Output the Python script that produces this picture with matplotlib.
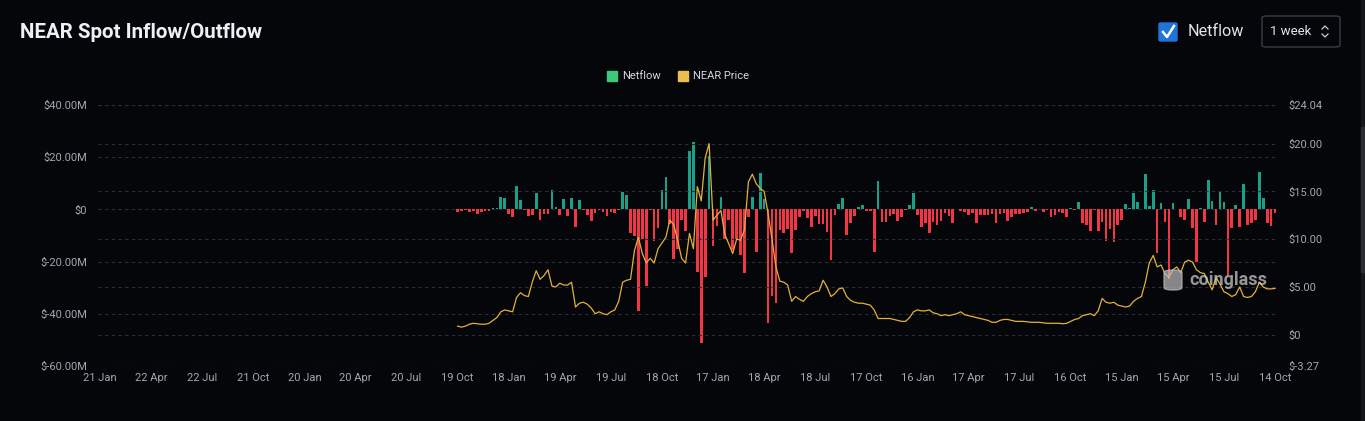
import matplotlib
matplotlib.use("Agg")
import matplotlib.pyplot as plt
from matplotlib.patches import FancyBboxPatch, Rectangle
import numpy as np

plt.rcParams['font.family'] = ['Roboto', 'DejaVu Sans']

# ---------------- data ----------------
tick_labels = ["21 Jan", "22 Apr", "22 Jul", "21 Oct", "20 Jan", "20 Apr", "20 Jul", "19 Oct",
               "18 Jan", "19 Apr", "19 Jul", "18 Oct", "17 Jan", "18 Apr", "18 Jul", "17 Oct",
               "16 Jan", "17 Apr", "17 Jul", "16 Oct", "15 Jan", "15 Apr", "15 Jul", "14 Oct"]
n_weeks = 300          # weekly categories, 21 Jan 2019 .. 14 Oct 2024
tick_every = 13        # one label per quarter
data_start = 91        # first week with data (19 Oct 2020)

# weekly netflow, $M
netflow = [
    -1.1, -0.7, -0.4, -1.0, -0.8, -1.6, -1.0, -0.8, -0.5, 0.5,
    0.6, 4.7, 4.3, -1.7, -3.0, 8.8, 3.5, -0.3, -2.6, -2.2,
    6.3, -4.0, -1.6, -1.9, 7.3, 1.0, -2.2, 4.0, -2.7, 4.3,
    -6.6, 3.5, -0.2, -2.1, -4.6, -1.3, -0.3, -1.0, -2.4, -0.9,
    -1.4, -0.4, 6.8, 5.4, -9.0, -10.3, -39.0, -11.2, -29.3, -0.2,
    -12.1, -7.2, 7.3, 12.6, -5.7, -19.0, -15.2, -4.2, -8.3, 22.5,
    26.0, -23.9, -51.3, -25.8, 20.5, -14.0, -6.2, 4.8, -11.4, -4.0,
    -15.6, -11.4, -17.3, -24.5, -3.0, 4.6, -16.2, 13.8, 3.9, -43.4,
    -33.0, -36.0, -7.9, -9.2, -7.7, -16.6, -7.9, -3.0, -0.6, -3.4,
    -6.6, -2.5, -5.6, -5.6, -8.5, -19.3, -2.1, 2.0, 4.4, -9.8,
    -5.1, -2.5, 0.8, 1.6, -0.6, -0.7, -16.2, 11.0, -4.7, -4.7,
    -2.5, -1.8, -4.3, -3.0, -0.3, 1.7, 6.4, -2.1, -6.6, -5.1,
    -9.0, -4.7, -6.0, -4.5, -1.3, -2.5, -5.3, 0.2, -0.6, -0.9,
    -2.1, -1.5, -5.1, -2.1, -2.1, -2.1, -1.9, -5.1, -1.8, -1.3,
    -4.4, -2.8, -1.8, -1.6, -1.3, -1.1, 0.8, -0.8, 0.3, -1.1,
    -0.2, -2.8, -2.2, -1.0, -1.3, -2.8, 0.5, -0.1, 2.8, -5.3,
    -6.0, -8.4, -0.3, -8.4, -4.7, -12.1, -7.6, -12.4, -6.0, -4.1,
    2.1, 0.4, 6.2, 3.0, 0.2, 13.6, 1.3, 7.4, -16.8, 2.3,
    -5.0, -26.8, 2.6, 0.2, -2.8, -4.1, 4.0, -7.2, -20.0, 0.5,
    -4.7, 11.3, 3.4, -6.0, 6.8, 3.0, -25.1, -7.2, 1.6, -6.6,
    9.7, -5.8, -5.3, -4.1, 14.2, 4.4, -5.3, -6.5, -1.3,
]

# weekly NEAR price, $
price = [
    0.9, 0.8, 0.9, 1.1, 1.2, 1.15, 1.1, 1.1, 1.2, 1.5,
    1.8, 2.4, 2.6, 2.5, 2.4, 3.9, 4.4, 4.1, 4.0, 5.5,
    6.7, 5.8, 6.2, 6.8, 5.1, 5.0, 5.4, 5.2, 5.2, 5.5,
    2.9, 3.3, 3.4, 3.2, 2.8, 2.2, 2.4, 2.2, 2.1, 2.4,
    2.6, 3.5, 5.5, 5.7, 5.8, 8.8, 10.2, 8.5, 7.5, 8.0,
    7.5, 9.0, 9.6, 10.2, 12.0, 11.5, 9.9, 8.0, 7.5, 10.6,
    9.0, 15.5, 14.0, 18.5, 20.0, 12.0, 12.5, 13.0, 10.5, 9.5,
    8.5, 10.0, 9.9, 11.0, 16.0, 16.8, 15.8, 15.3, 15.0, 12.7,
    10.0, 7.1, 5.6, 5.5, 5.2, 3.5, 4.0, 3.7, 3.5, 4.0,
    4.3, 4.5, 4.6, 5.7, 5.0, 4.0, 4.3, 4.8, 4.9, 4.0,
    3.6, 3.4, 3.3, 3.3, 3.2, 3.1, 2.6, 1.7, 1.7, 1.7,
    1.7, 1.6, 1.5, 1.4, 1.4, 1.8, 2.4, 2.6, 2.5, 2.5,
    2.6, 2.3, 2.2, 2.0, 2.1, 2.0, 2.1, 2.2, 2.4, 2.1,
    2.0, 1.9, 1.8, 1.7, 1.6, 1.5, 1.3, 1.3, 1.5, 1.6,
    1.6, 1.5, 1.4, 1.4, 1.4, 1.35, 1.3, 1.3, 1.3, 1.25,
    1.2, 1.2, 1.2, 1.2, 1.15, 1.2, 1.4, 1.6, 1.7, 2.0,
    2.1, 2.2, 2.0, 2.5, 3.8, 3.4, 3.3, 3.4, 3.1, 3.0,
    2.9, 3.0, 3.5, 3.8, 4.0, 5.5, 7.5, 8.3, 7.1, 7.3,
    6.4, 6.0, 6.8, 7.1, 6.5, 7.6, 7.8, 7.6, 6.8, 6.5,
    6.4, 5.5, 4.7, 6.0, 5.3, 4.5, 4.3, 4.0, 4.2, 5.0,
    4.0, 3.9, 4.0, 4.5, 5.5, 5.0, 4.8, 4.8, 4.85,
]

left_ticks = [40, 20, 0, -20, -40, -60]
left_tick_labels = ["$40.00M", "$20.00M", "$0", "$-20.00M", "$-40.00M", "$-60.00M"]
right_ticks = [24.04, 20, 15, 10, 5, 0, -3.27]
right_tick_labels = ["$24.04", "$20.00", "$15.00", "$10.00", "$5.00", "$0", "$-3.27"]

# ---------------- style ----------------
BG = "#05060a"
GREEN = "#1a9f88"
RED = "#f23645"
LEG_GREEN = "#3cc97d"
GOLD = "#e3b03a"
LEG_GOLD = "#ecbd4f"
GRID = "#2b2e35"
TICK = "#a3a7ae"

W, H = 1365, 421
fig = plt.figure(figsize=(W / 100, H / 100), dpi=100, facecolor=BG)

L, R, T, B = 98, 1277, 105, 366
ax = fig.add_axes([L / W, 1 - B / H, (R - L) / W, (B - T) / H])
ax.set_facecolor(BG)
ax2 = ax.twinx()

x = np.arange(data_start, data_start + len(netflow))
colors = [GREEN if v >= 0 else RED for v in netflow]
ax.bar(x, netflow, width=0.68, color=colors, linewidth=0, zorder=2)

xp = np.arange(data_start, data_start + len(price))
ax2.plot(xp, price, color=GOLD, lw=0.9, zorder=3)

ax.set_xlim(-0.5, n_weeks - 0.5)
ax.set_ylim(-60, 40)
ax2.set_ylim(-3.27, 24.04)

for a in (ax, ax2):
    for s in a.spines.values():
        s.set_visible(False)

ax.set_yticks(left_ticks)
ax.set_yticklabels(left_tick_labels)
ax2.set_yticks(right_ticks)
ax2.set_yticklabels(right_tick_labels)
ax.set_xticks(np.arange(0, n_weeks, tick_every))
ax.set_xticklabels(tick_labels)

ax.tick_params(axis='y', length=0, pad=8, labelsize=8, labelcolor=TICK)
ax2.tick_params(axis='y', length=0, pad=8, labelsize=8, labelcolor=TICK)
ax.tick_params(axis='x', length=0, pad=5, labelsize=8, labelcolor=TICK)

for v in left_ticks:
    ax.axhline(v, color=GRID, lw=0.8, ls=(0, (3, 3)), zorder=0)
for v in right_ticks:
    ax2.axhline(v, color=GRID, lw=0.8, ls=(0, (3, 3)), zorder=0)
ax2.set_zorder(ax.get_zorder() + 1)
ax2.patch.set_visible(False)

# ---------------- header ----------------
fig.text(20 / W, 1 - 32 / H, "NEAR Spot Inflow/Outflow", color="#eef0f5",
         fontsize=14.8, fontweight="bold", va="center", ha="left")

def px(xv, yv):
    return xv / W, 1 - yv / H

# legend
fig.patches.append(Rectangle(px(607, 81), 10 / W, 10 / H, color=LEG_GREEN, transform=fig.transFigure))
fig.text(*px(622, 76), "Netflow", color="#d4d7dc", fontsize=8, va="center", ha="left")
fig.patches.append(Rectangle(px(678, 81), 10 / W, 10 / H, color=LEG_GOLD, transform=fig.transFigure))
fig.text(*px(693, 76), "NEAR Price", color="#d4d7dc", fontsize=8, va="center", ha="left")

# checkbox
fig.patches.append(FancyBboxPatch(px(1159, 41), 18 / W, 18 / H,
                                  boxstyle="round,pad=0,rounding_size=0.002",
                                  color="#1f74d8", transform=fig.transFigure))
fig.lines.append(plt.Line2D([1163 / W, 1167 / W, 1174 / W],
                            [1 - 32 / H, 1 - 37 / H, 1 - 26 / H],
                            color="white", lw=1.8, transform=fig.transFigure))
fig.text(*px(1188, 32), "Netflow", color="#e1e4e9", fontsize=11.6, va="center", ha="left")

# period selector
fig.patches.append(FancyBboxPatch(px(1262, 47), 78 / W, 31 / H,
                                  boxstyle="round,pad=0,rounding_size=0.004",
                                  facecolor=BG, edgecolor="#3a3d45", lw=1,
                                  transform=fig.transFigure))
fig.text(*px(1270, 31.5), "1 week", color="#e1e4e9", fontsize=9.5, va="center", ha="left")
fig.lines.append(plt.Line2D([1322 / W, 1325 / W, 1328 / W], [1 - 29 / H, 1 - 26 / H, 1 - 29 / H],
                            color="#c9ccd2", lw=0.9, transform=fig.transFigure))
fig.lines.append(plt.Line2D([1322 / W, 1325 / W, 1328 / W], [1 - 34 / H, 1 - 37 / H, 1 - 34 / H],
                            color="#c9ccd2", lw=0.9, transform=fig.transFigure))

# watermark
fig.text(*px(1189, 280), "coinglass", color="#c8c8c8", alpha=0.75, fontsize=13,
         fontweight="bold", va="center", ha="left")
fig.patches.append(FancyBboxPatch(px(1164, 290), 18 / W, 20 / H,
                                  boxstyle="round,pad=0,rounding_size=0.006",
                                  color="#bdbdbd", alpha=0.7, transform=fig.transFigure))

# page scrollbar
fig.patches.append(Rectangle(px(1361, 421), 4 / W, 1, color="#15161a", transform=fig.transFigure))
fig.patches.append(Rectangle(px(1361, 272), 4 / W, 145 / H, color="#2c2d33", transform=fig.transFigure))

fig.savefig("out.png", dpi=100, facecolor=BG)
